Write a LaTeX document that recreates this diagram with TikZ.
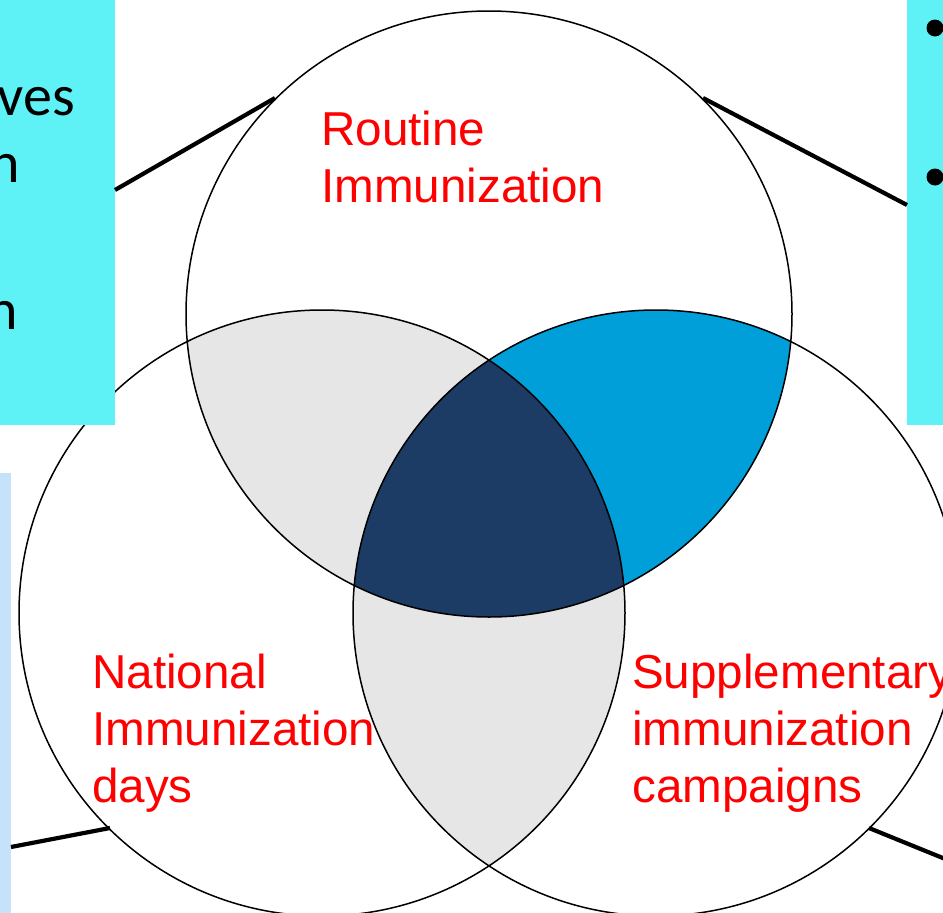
\documentclass[tikz,border=0pt]{standalone}
\usepackage{fontspec}
\setmainfont{Liberation Sans}
\newfontfamily\bodyfont{Carlito}
\definecolor{boxcyan}{HTML}{5EF2F7}
\definecolor{boxblue}{HTML}{C6E1FA}
\definecolor{lensgray}{HTML}{E6E6E6}
\definecolor{lensblue}{HTML}{019FD9}
\definecolor{corenavy}{HTML}{1C3C66}
\begin{document}
\begin{tikzpicture}[x=1pt,y=-1pt,
  ring/.style={draw=black, line width=1.5pt},
  vlabel/.style={text=red, font=\fontsize{47.6}{57}\selectfont, anchor=base west, inner sep=0pt},
  bodytext/.style={font=\bodyfont\fontsize{58}{67}\selectfont, anchor=base east, inner sep=0pt},
  panel/.style={anchor=north west, inner sep=0pt, outer sep=0pt, draw=none},
  leader/.style={line width=4.2pt, black}]
\useasboundingbox (0,0) rectangle (943,913);
\clip (0,0) rectangle (943,913);
\fill[white] (0,0) rectangle (943,913);

% circle centres
\coordinate (cT) at (489,314);
\coordinate (cL) at (322,613);
\coordinate (cR) at (656,613);

% white discs
\fill[white] (cT) circle[radius=303pt];
\fill[white] (cL) circle[radius=303pt];
\fill[white] (cR) circle[radius=303pt];

% pairwise overlaps
\begin{scope}
  \clip (cT) circle[radius=303pt];
  \fill[lensgray] (cL) circle[radius=303pt];
  \fill[lensblue] (cR) circle[radius=303pt];
\end{scope}
\begin{scope}
  \clip (cL) circle[radius=303pt];
  \fill[lensgray] (cR) circle[radius=303pt];
\end{scope}
% triple overlap
\begin{scope}
  \clip (cT) circle[radius=303pt];
  \clip (cL) circle[radius=303pt];
  \fill[corenavy] (cR) circle[radius=303pt];
\end{scope}

% outlines
\draw[ring] (cT) circle[radius=303pt];
\draw[ring] (cL) circle[radius=303pt];
\draw[ring] (cR) circle[radius=303pt];

% side panels
\node[panel, fill=boxcyan, minimum width=115pt, minimum height=425pt] (boxTL) at (0,0) {};
\node[panel, fill=boxcyan, minimum width=40pt, minimum height=425pt] (boxTR) at (907,0) {};
\node[panel, fill=boxblue, minimum width=11pt, minimum height=440pt] (boxBL) at (0,473) {};

% panel text
\node[bodytext] (tl1) at (75,115) {ves};
\node[bodytext] (tl2) at (20,182) {n};
\node[bodytext] (tl3) at (18,329) {n};
\fill (935,28) circle[radius=8.5pt] coordinate (bul1);
\fill (935,177) circle[radius=8.5pt] coordinate (bul2);

% leader lines
\coordinate (pTL) at (115,190);
\coordinate (qTL) at (275,98);
\coordinate (qTR) at (703,98);
\coordinate (pTR) at (907,205);
\coordinate (pBL) at (11,847);
\coordinate (qBL) at (110,828);
\coordinate (qBR) at (869,828);
\coordinate (pBR) at (960,865);
\draw[leader] (pTL) -- (qTL);
\draw[leader] (qTR) -- (pTR);
\draw[leader] (pBL) -- (qBL);
\draw[leader] (qBR) -- (pBR);

% circle labels
\node[vlabel] (r1) at (321,145) {Routine};
\node[vlabel] (r2) at (321,202) {Immunization};
\node[vlabel] (n1) at (92,688) {National};
\node[vlabel] (n2) at (92,745) {Immunization};
\node[vlabel] (n3) at (92,802) {days};
\node[vlabel] (s1) at (632,688) {Supplementary};
\node[vlabel] (s2) at (632,745) {immunization};
\node[vlabel] (s3) at (632,802) {campaigns};
\end{tikzpicture}
\end{document}
